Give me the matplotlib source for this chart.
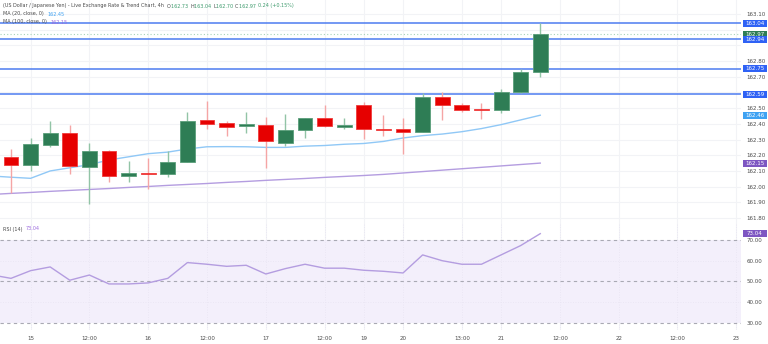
import matplotlib
matplotlib.use('Agg')
import matplotlib.pyplot as plt
import numpy as np
from matplotlib.patches import Rectangle
from matplotlib.transforms import blended_transform_factory

# 4h candles, index 0 = first visible bar
opens = [162.19, 162.14, 162.265, 162.34, 162.125, 162.23, 162.07, 162.09, 162.08, 162.155,
         162.426, 162.405, 162.384, 162.394, 162.28, 162.36, 162.435, 162.378, 162.52, 162.37,
         162.365, 162.346, 162.57, 162.52, 162.495, 162.49, 162.60, 162.73]
highs = [162.24, 162.31, 162.42, 162.39, 162.28, 162.235, 162.165, 162.18, 162.23, 162.475,
         162.547, 162.416, 162.475, 162.445, 162.46, 162.44, 162.52, 162.44, 162.537, 162.456,
         162.435, 162.595, 162.60, 162.53, 162.53, 162.62, 162.75, 163.04]
lows = [161.96, 162.10, 162.25, 162.08, 161.89, 162.03, 162.03, 161.985, 162.063, 162.155,
        162.37, 162.32, 162.34, 162.12, 162.26, 162.31, 162.38, 162.37, 162.305, 162.32,
        162.21, 162.346, 162.425, 162.475, 162.43, 162.47, 162.595, 162.70]
closes = [162.14, 162.27, 162.34, 162.13, 162.23, 162.07, 162.085, 162.08, 162.155, 162.42,
          162.40, 162.38, 162.397, 162.29, 162.36, 162.435, 162.384, 162.392, 162.37, 162.36,
          162.346, 162.573, 162.52, 162.49, 162.49, 162.60, 162.73, 162.97]

# indicators start one bar before the first visible candle
ma20 = [162.068, 162.06, 162.053, 162.10, 162.12, 162.14, 162.17, 162.19, 162.21, 162.22, 162.24,
        162.254, 162.255, 162.254, 162.25, 162.25, 162.258, 162.262, 162.27, 162.275, 162.288,
        162.31, 162.325, 162.335, 162.35, 162.37, 162.395, 162.425, 162.455]
ma100 = [161.950, 161.957, 161.963, 161.970, 161.976, 161.982, 161.988, 161.995, 162.001, 162.008,
         162.014, 162.020, 162.027, 162.033, 162.040, 162.046, 162.052, 162.059, 162.065, 162.071,
         162.078, 162.087, 162.096, 162.105, 162.114, 162.123, 162.132, 162.141, 162.150]
rsi = [53.2, 51.5, 55.2, 57.0, 50.6, 53.1, 48.8, 48.8, 49.3, 51.5, 59.1, 58.3, 57.3, 57.8, 53.6,
       56.2, 58.3, 56.4, 56.4, 55.4, 54.9, 54.1, 62.8, 60.0, 58.3, 58.3, 62.8, 67.3, 73.04]

levels = [163.04, 162.94, 162.75, 162.59]

tick_pos = [1, 4, 7, 10, 13, 16, 18, 20, 23, 25, 28, 31, 34, 37]
tick_labels = ['15', '12:00', '16', '12:00', '17', '12:00', '19', '20', '13:00', '21',
               '12:00', '22', '12:00', '23']
price_ticks = [161.80, 161.90, 162.00, 162.10, 162.20, 162.30, 162.40, 162.50, 162.60,
               162.70, 162.80, 162.90, 163.00, 163.10]
rsi_ticks = [30, 40, 50, 60, 70]

GREEN = '#2e7d55'
GREEN_WICK = '#92c4a6'
RED = '#e60000'
RED_WICK = '#f5a5a5'
BLUE = '#4d7cf0'
TAG_BLUE = '#2f62f5'
MA20_C = '#90c8f6'
MA100_C = '#b49de0'
PURPLE = '#7e57c2'
TXT = '#4a4a4a'
GRID = '#f2f3f6'
FS = 4

W, H = 768, 344
PLOT_W = 741
fig = plt.figure(figsize=(W / 100, H / 100), dpi=100)
ax = fig.add_axes([0, 1 - 224 / H, PLOT_W / W, 224 / H])
rx = fig.add_axes([0, 1 - 330 / H, PLOT_W / W, 106 / H], sharex=ax)

for a in (ax, rx):
    for s in a.spines.values():
        s.set_visible(False)
    a.yaxis.tick_right()
    a.tick_params(axis='both', length=0, labelsize=FS, labelcolor=TXT, pad=4)
    for t in tick_pos:
        a.axvline(t, color=GRID, lw=0.8, zorder=0)

ax.set_xlim(-0.56, 37.24)
ax.set_ylim(161.762, 163.189)
ax.tick_params(axis='x', labelbottom=False)
for v in price_ticks:
    ax.axhline(v, color=GRID, lw=0.8, zorder=0)

o = np.array(opens)
c = np.array(closes)
x = np.arange(len(o))
up = c >= o
ax.vlines(x, lows, highs, colors=np.where(up, GREEN_WICK, RED_WICK), lw=1, zorder=3)
ax.bar(x, np.maximum(np.abs(c - o), 0.004), 0.76, bottom=np.minimum(o, c),
       color=np.where(up, GREEN, RED), edgecolor=np.where(up, '#5a9e7a', '#f03a3a'),
       lw=0.6, zorder=4)

xi = np.arange(-1, len(ma20) - 1)
ax.plot(xi, ma20, color=MA20_C, lw=1, zorder=2)
ax.plot(xi, ma100, color=MA100_C, lw=1, zorder=2)

for lv in levels:
    ax.axhline(lv, color=BLUE, lw=1.1, zorder=2)
ax.axhline(closes[-1], color='#a8d4b8', lw=0.8, ls=(0, (1, 2)), zorder=2)


def tag(a, y, text, bg, z=10):
    # small coloured price box on the right scale, 24 x 7 px
    t = blended_transform_factory(a.transAxes, a.transData)
    y0, y1 = a.get_ylim()
    h = 7 * (y1 - y0) / (a.get_position().height * H)
    a.add_patch(Rectangle((1 + 1.5 / PLOT_W, y - h / 2), 24 / PLOT_W, h, transform=t,
                          fc=bg, ec='none', clip_on=False, zorder=z))
    a.text(1 + 13.5 / PLOT_W, y, text, transform=t, fontsize=FS, color='white',
           va='center', ha='center', clip_on=False, zorder=z + 0.5)


# drawing order: the last-price tag sits under the 162.94 tag
tags = [(closes[-1], GREEN), (ma20[-1], '#3fa2f2'), (ma100[-1], PURPLE)]
tags += [(lv, TAG_BLUE) for lv in levels]
for k, (v, col) in enumerate(tags):
    tag(ax, v, f'{v:.2f}', col, z=10 + k)

# price labels hidden behind the tags are left out, as in the reference
shown = [p for p in price_ticks if min(abs(p - v) for v, _ in tags) > 0.042]
ax.set_yticks(shown)
ax.set_yticklabels([f'{v:.2f}' for v in shown])

# RSI pane
rx.set_ylim(26.6, 77.7)
rx.set_yticks(rsi_ticks)
rx.set_yticklabels([f'{v:.2f}' for v in rsi_ticks])
rx.set_xticks(tick_pos)
rx.set_xticklabels(tick_labels)
rx.axhspan(30, 70, color='#f3effb', lw=0, zorder=0)
for t in tick_pos:
    rx.axvline(t, color='#e8e4f2', lw=0.6, ls=(0, (1, 2)), zorder=1)
for v in (40, 60):
    rx.axhline(v, color='#e8e4f2', lw=0.6, ls=(0, (1, 2)), zorder=1)
for v in (30, 50, 70):
    rx.axhline(v, color='#a9a9b3', lw=0.8, ls=(0, (3, 3)), zorder=1)
rx.plot(xi, rsi, color=MA100_C, lw=1, zorder=3)
tag(rx, rsi[-1], f'{rsi[-1]:.2f}', PURPLE)

# legend rows, drawn piece by piece
renderer = fig.canvas.get_renderer()
LFS = 3.5


def row(px, py, parts):
    for text, col in parts:
        t = fig.text(px / W, 1 - py / H, text, fontsize=LFS, color=col, va='center', ha='left')
        px = t.get_window_extent(renderer).x1 + 0.3


LG = '#3d9a6c'
row(3, 6, [('(US Dollar / Japanese Yen) - Live Exchange Rate & Trend Chart, 4h  ', TXT),
           ('O', TXT), ('162.73 ', LG), ('H', TXT), ('163.04 ', LG),
           ('L', TXT), ('162.70 ', LG), ('C', TXT), ('162.97 ', LG), ('0.24 (+0.15%)', LG)])
row(3, 14, [('MA (20, close, 0)  ', TXT), ('162.45', '#3fa2f2')])
row(3, 22, [('MA (100, close, 0)  ', TXT), ('162.15', '#9c6ade')])
row(3, 229, [('RSI (14)  ', TXT), ('73.04', '#9c6ade')])

fig.savefig('out.png', dpi=100, facecolor='white')
